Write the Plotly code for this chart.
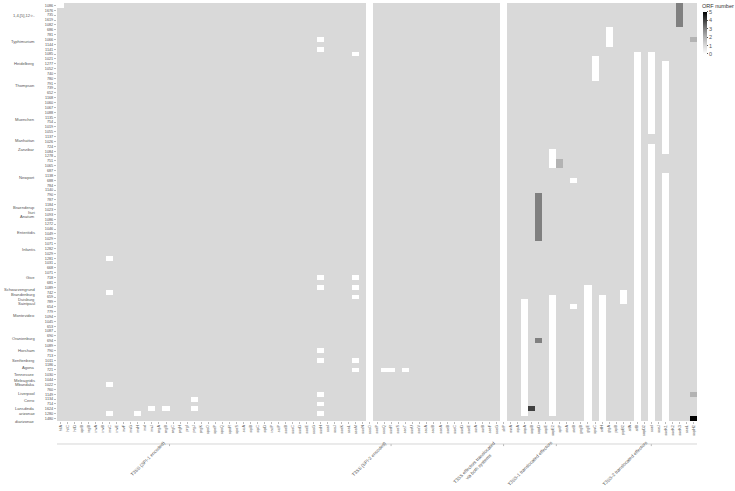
import plotly.graph_objects as go

# ---------------- data ----------------
strains = ["1086","1676","735","1619","1082","686","781","1066","1144","1141",
           "1085","1021","1277","1052","740","780","791","739","652","1168",
           "1060","1067","1088","1135","754","1019","1055","1137","1026","724",
           "1084","1278","751","1065","687","1138","688","784","1140","790",
           "787","1184","1023","1093","1086","1272","1046","1049","1029","1071",
           "1282","1029","1281","1031","668","1071","718","681","1089","742",
           "659","789","654","779","1094","1045","653","1087","690","694",
           "1089","790","713","1011","1186","721","1030","1044","1022","760",
           "1149","1134","714","1624","1280","1480"]

serovars = ["1,4,[5],12:i:-","Typhimurium","Heidelberg","Thompson","Muenchen",
            "Manhattan","Zanzibar","Newport","Braenderup","Ituri","Anatum",
            "Enteritidis","Infantis","Give","Schwarzengrund","Brandenburg",
            "Duisburg","Saintpaul","Montevideo","Oranienburg","Horsham",
            "Senftenberg","Agona","Tennessee","Meleagridis","Mbandaka",
            "Liverpool","Cerro","Lansdinda","arizonae","diarizonae"]
serovar_row = [2, 7.5, 12, 16.5, 23.5, 27.8, 29.7, 35.5, 41.6, 42.5, 43.4,
               46.8, 50.3, 55.9, 58.5, 59.4, 60.6, 61.4, 63.7, 68.5, 71,
               73, 74.5, 76, 77.1, 78, 79.8, 81.2, 83, 84, 85.5]

spi1 = ["hilA","hilC","hilD","sprB","iagB","invA","invB","invC","invE","invF",
        "invG","invH","invI","invJ","orgA","orgB","orgC","prgH","prgI","prgJ",
        "prgK","spaO","spaP","spaQ","spaR","spaS","sicA","sipB","sipC","sipD",
        "iacP","sicP"]
spi2 = ["ssaB","ssaC","ssaD","ssaE","ssaG","ssaH","ssaI","ssaJ","ssaK","ssaL",
        "ssaM","ssaN","ssaO","ssaP","ssaQ","ssaR","ssaS","ssaT","ssaU","ssaV",
        "sscA","sscB","sseA","sseB","sseC","sseD","sseE","ssrA","ssrB","sseF",
        "sseG"]
both = ["slrP"]
eff1 = ["avrA","sipA","sopA","sopB","sopD","sopE","sopE2","sptP","steA","steB",
        "gogB","gtgE","spvC","srfH"]
eff2 = ["gtgA","pipB","pipB2","sifA","sifB","sopD2","sseI","sseJ","sseK1",
        "sseK2","sseK3","sseL","sspH2"]
groups = ["T3SS (SPI-1 encoded)","T3SS (SPI-2 encoded)",
          "T3SS effectors translocated<br>via both systems",
          "T3SS-1 translocated effectors","T3SS-2 translocated effectors"]
group_genes = [spi1, spi2, both, eff1, eff2]

# ORF numbers: default 1; exceptions as (gene, first strain row, last strain row, value)
exceptions = [
    ("hilA",0,0,0),
    ("invC",52,52,0),("invC",59,59,0),("invC",78,78,0),("invC",84,84,0),
    ("invH",84,84,0),("invJ",83,83,0),("orgB",83,83,0),
    ("prgJ",81,81,0),("prgJ",83,83,0),
    ("ssaH",7,7,0),("ssaH",9,9,0),("ssaM",10,10,0),
    ("ssaH",56,56,0),("ssaH",58,58,0),
    ("ssaM",56,56,0),("ssaM",58,58,0),("ssaM",60,60,0),
    ("ssaH",71,71,0),("ssaH",73,73,0),
    ("ssaM",73,73,0),("ssaM",75,75,0),
    ("ssaH",80,80,0),("ssaH",82,82,0),("ssaH",84,84,0),
    ("ssaO",0,85,0),
    ("ssaQ",75,75,0),("ssaR",75,75,0),("ssaT",75,75,0),
    ("slrP",0,85,0),
    ("sopA",61,84,0),
    ("sopD",39,48,3),("sopD",69,69,3),("sopB",83,83,4),
    ("sopE2",30,33,0),("sopE2",60,84,0),
    ("sptP",32,33,2),
    ("steB",36,36,0),("steB",62,62,0),
    ("gtgE",58,85,0),
    ("spvC",11,15,0),
    ("gtgA",5,8,0),("srfH",60,85,0),
    ("pipB2",59,61,0),
    ("sifB",10,85,0),
    ("sseI",10,26,0),("sseI",29,85,0),
    ("sseK1",12,30,0),("sseK1",35,85,0),
    ("sseK3",0,4,3),
    ("sspH2",7,7,2),("sspH2",80,80,2),("sspH2",85,85,5),
]

# ---------------- build matrix ----------------
genes = [g for grp in group_genes for g in grp]
nrow, ncol = len(strains), len(genes)
z = [[1] * ncol for _ in range(nrow)]
for g, r0, r1, v in exceptions:
    c = genes.index(g)
    for r in range(r0, r1 + 1):
        z[r][c] = v

font = "Liberation Sans, Arial, sans-serif"
fig = go.Figure(go.Heatmap(
    z=z, x=list(range(ncol)), y=list(range(nrow)),
    zmin=0, zmax=5,
    colorscale=[[0, "#ffffff"], [0.2, "#d9d9d9"], [0.4, "#b3b3b3"],
                [0.6, "#808080"], [0.8, "#404040"], [1, "#000000"]],
    colorbar=dict(x=1.009, xanchor="left", xpad=0, ypad=0,
                  y=0.9785, yanchor="top", lenmode="pixels", len=42,
                  thickness=4, outlinewidth=0,
                  tickvals=[0, 1, 2, 3, 4, 5], ticks="outside", ticklen=1.5,
                  tickcolor="#555",
                  tickfont=dict(size=5.5, color="#555", family=font)),
    hoverongaps=False,
))

fig.update_xaxes(tickmode="array", tickvals=list(range(ncol)), ticktext=genes,
                 tickangle=-90, tickfont=dict(size=3.8, color="#555", family=font),
                 ticks="outside", ticklen=1.5, tickcolor="#bbb", automargin=False,
                 showgrid=False, zeroline=False, range=[-0.5, ncol - 0.5])
fig.update_yaxes(tickmode="array", tickvals=list(range(nrow)), ticktext=strains,
                 tickfont=dict(size=3.8, color="#555", family=font),
                 ticks="outside", ticklen=2, tickcolor="#bbb", automargin=False,
                 range=[nrow - 0.5, -0.5], showgrid=False, zeroline=False)

# colorbar title
fig.add_annotation(x=1.004, xref="paper", y=1.004, yref="paper", text="ORF number",
                   showarrow=False, xanchor="left", yanchor="top",
                   font=dict(size=5.5, color="#333", family=font))

# serovar labels
for name, r in zip(serovars, serovar_row):
    fig.add_annotation(x=-0.031, xref="paper", y=r, yref="y", text=name,
                       showarrow=False, xanchor="right", yanchor="middle",
                       font=dict(size=4.1, color="#555", family=font))

# group axis
start = 0
for name, grp in zip(groups, group_genes):
    n = len(grp)
    center = start + (n - 1) / 2
    fig.add_annotation(x=center, xref="x", y=-0.04, yref="paper", text=name,
                       showarrow=False, textangle=-45, xanchor="right", yanchor="top",
                       font=dict(size=4.6, color="#555", family=font))
    fig.add_shape(type="line", xref="x", yref="paper", x0=center, x1=center,
                  y0=-0.055, y1=-0.06, line=dict(color="#999", width=0.7))
    start += n
fig.add_shape(type="line", xref="paper", yref="paper", x0=0, x1=1,
              y0=-0.055, y1=-0.055, line=dict(color="#ccc", width=0.8))

fig.update_layout(width=735, height=491,
                  margin=dict(l=57, r=38, t=3, b=70),
                  plot_bgcolor="white", paper_bgcolor="white",
                  font=dict(family=font))
fig.write_html("out.html", config={"displayModeBar": False},
               post_script="document.body.style.margin='0';")
